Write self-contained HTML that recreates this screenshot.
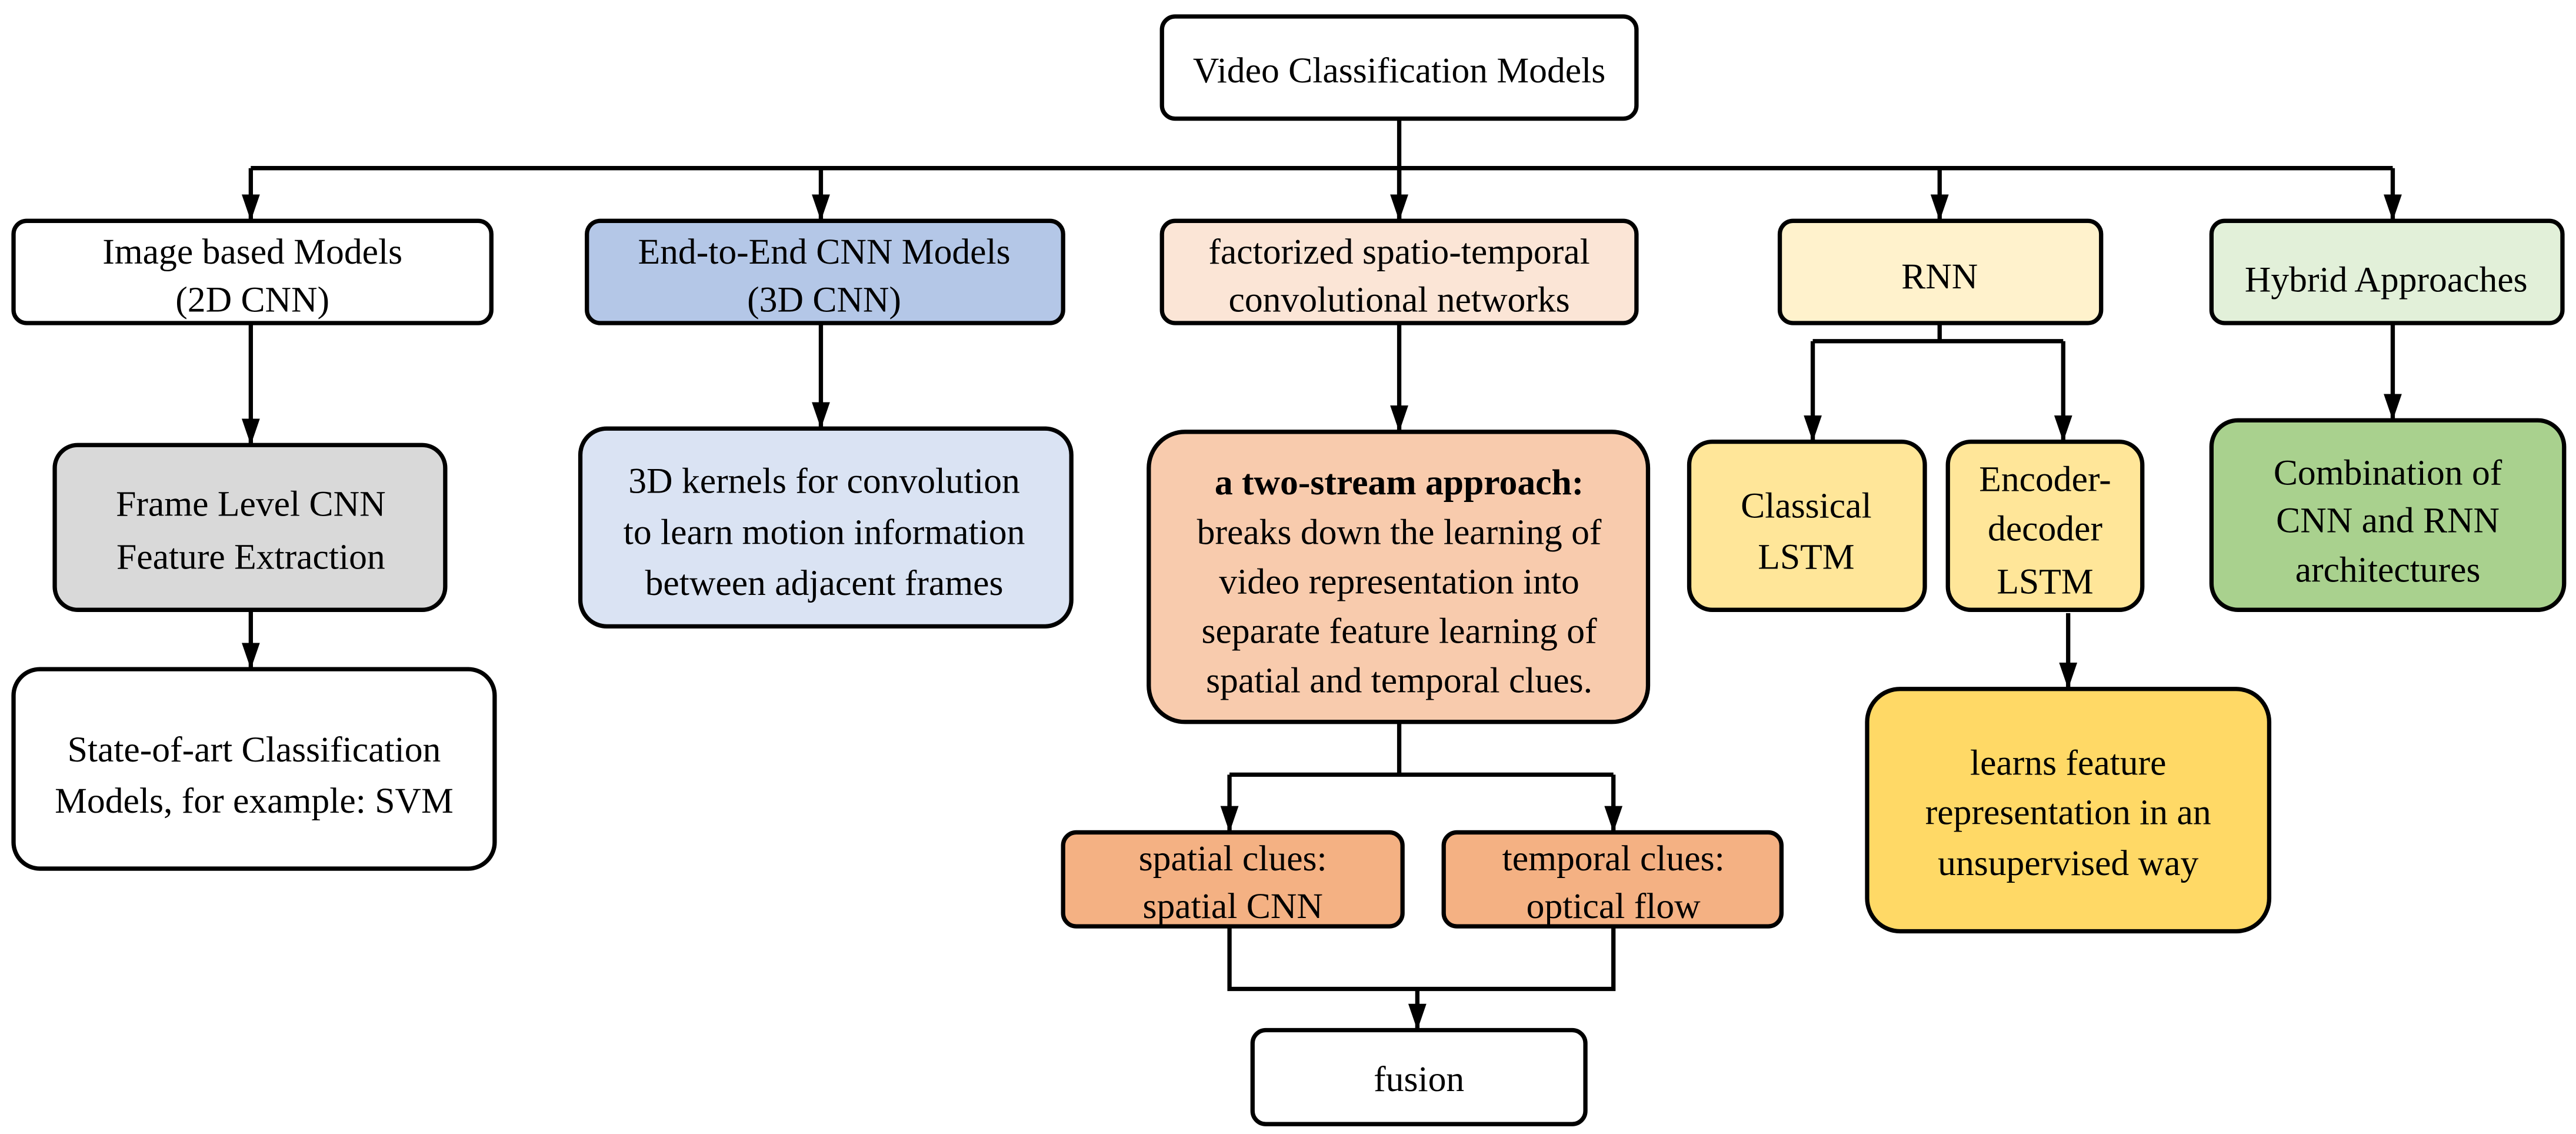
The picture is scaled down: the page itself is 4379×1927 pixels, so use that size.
<!DOCTYPE html>
<html><head><meta charset="utf-8"><style>
html,body{margin:0;padding:0;background:#fff;}
svg{display:block;}
svg text{font-family:"Liberation Serif","Times New Roman",Times,"DejaVu Serif",serif;}
</style></head><body>
<svg width="4379" height="1927" viewBox="0 0 1563 688" xmlns="http://www.w3.org/2000/svg">
<defs><marker id="a" markerWidth="16" markerHeight="11" refX="16" refY="5.5" orient="auto" markerUnits="userSpaceOnUse" viewBox="0 0 16 11"><path d="M0,0 L16,5.5 L0,11 z" fill="#000"/></marker></defs>
<g stroke="#000" stroke-width="2.6" fill="none">
<path d="M849 72 V134"/>
<path d="M152 102 H1452"/>
<path d="M152 102 V134" marker-end="url(#a)"/>
<path d="M498 102 V134" marker-end="url(#a)"/>
<path d="M849 102 V134" marker-end="url(#a)"/>
<path d="M1177 102 V134" marker-end="url(#a)"/>
<path d="M1452 102 V134" marker-end="url(#a)"/>
<path d="M152 196 V270" marker-end="url(#a)"/>
<path d="M152 370 V406" marker-end="url(#a)"/>
<path d="M498 196 V260" marker-end="url(#a)"/>
<path d="M849 196 V262" marker-end="url(#a)"/>
<path d="M849 438 V470 M746 470 H979"/>
<path d="M746 470 V505" marker-end="url(#a)"/>
<path d="M979 470 V505" marker-end="url(#a)"/>
<path d="M746 562 V600 H979 V562"/>
<path d="M860 600 V625" marker-end="url(#a)"/>
<path d="M1177 196 V207 M1100 207 H1252"/>
<path d="M1100 207 V268" marker-end="url(#a)"/>
<path d="M1252 207 V268" marker-end="url(#a)"/>
<path d="M1255 372 V418" marker-end="url(#a)"/>
<path d="M1452 196 V255" marker-end="url(#a)"/>
</g>
<g stroke="#000" stroke-width="2.6">
<rect x="705" y="10" width="288" height="62" rx="8" fill="#fff"/>
<rect x="8" y="134" width="290" height="62" rx="8" fill="#fff"/>
<rect x="356" y="134" width="289" height="62" rx="8" fill="#b4c7e7"/>
<rect x="705" y="134" width="288" height="62" rx="8" fill="#fbe5d6"/>
<rect x="1080" y="134" width="195" height="62" rx="8" fill="#fff2cc"/>
<rect x="1342" y="134" width="213" height="62" rx="8" fill="#e2f0d9"/>
<rect x="33" y="270" width="237" height="100" rx="14" fill="#d9d9d9"/>
<rect x="8" y="406" width="292" height="121" rx="16" fill="#fff"/>
<rect x="352" y="260" width="298" height="120" rx="16" fill="#dae3f3"/>
<rect x="697" y="262" width="303" height="176" rx="22" fill="#f8cbad"/>
<rect x="645" y="505" width="206" height="57" rx="8" fill="#f4b183"/>
<rect x="876" y="505" width="205" height="57" rx="8" fill="#f4b183"/>
<rect x="760" y="625" width="202" height="57" rx="8" fill="#fff"/>
<rect x="1025" y="268" width="143" height="102" rx="14" fill="#ffe699"/>
<rect x="1182" y="268" width="118" height="102" rx="14" fill="#ffe699"/>
<rect x="1133" y="418" width="244" height="147" rx="20" fill="#ffd966"/>
<rect x="1342" y="255" width="214" height="115" rx="16" fill="#a9d18e"/>
</g>
<g font-size="22" text-anchor="middle" fill="#000">
<text x="849" y="50">Video Classification Models</text>
<text x="153" y="160">Image based Models</text><text x="153" y="189">(2D CNN)</text>
<text x="500" y="160">End-to-End CNN Models</text><text x="500" y="189">(3D CNN)</text>
<text x="849" y="160">factorized  spatio-temporal</text><text x="849" y="189">convolutional networks</text>
<text x="1177" y="175">RNN</text>
<text x="1448" y="177">Hybrid Approaches</text>
<text x="152" y="313">Frame Level CNN</text><text x="152" y="345">Feature Extraction</text>
<text x="154" y="462">State-of-art Classification</text><text x="154" y="493">Models, for example:  SVM</text>
<text x="500" y="299">3D kernels for convolution</text><text x="500" y="330">to learn motion information</text><text x="500" y="361">between adjacent frames</text>
<text x="849" y="300" font-weight="bold">a two-stream  approach:</text>
<text x="849" y="330">breaks down the learning of</text>
<text x="849" y="360">video representation into</text>
<text x="849" y="390">separate  feature learning of</text>
<text x="849" y="420">spatial and temporal clues.</text>
<text x="748" y="528">spatial clues:</text><text x="748" y="557">spatial CNN</text>
<text x="979" y="528">temporal clues:</text><text x="979" y="557">optical flow</text>
<text x="861" y="662">fusion</text>
<text x="1096" y="314">Classical</text><text x="1096" y="345">LSTM</text>
<text x="1241" y="298">Encoder-</text><text x="1241" y="328">decoder</text><text x="1241" y="360">LSTM</text>
<text x="1255" y="470">learns feature</text><text x="1255" y="500">representation in an</text><text x="1255" y="531">unsupervised way</text>
<text x="1449" y="294">Combination of</text><text x="1449" y="323">CNN and RNN</text><text x="1449" y="353">architectures</text>
</g>
</svg>
</body></html>
